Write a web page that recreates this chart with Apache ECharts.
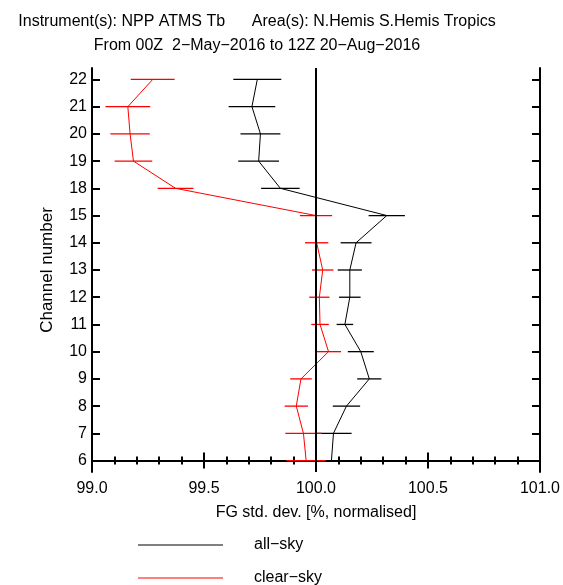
<!DOCTYPE html>
<html>
<head>
<meta charset="utf-8">
<script src="https://cdn.jsdelivr.net/npm/echarts@6/dist/echarts.min.js"></script>
<style>html,body{margin:0;padding:0;background:#fff}#c{width:563px;height:585px}</style>
</head>
<body>
<div id="c"></div>
<script>
// Channels (bottom to top)
const channels = [6, 7, 8, 9, 10, 11, 12, 13, 14, 15, 18, 19, 20, 21, 22];
// all-sky values and error half-widths
const allSky    = [100.069, 100.078, 100.136, 100.238, 100.200, 100.129, 100.151, 100.151, 100.179, 100.316, 99.841, 99.744, 99.752, 99.714, 99.738];
const allSkyErr = [0.081, 0.081, 0.061, 0.054, 0.058, 0.037, 0.048, 0.054, 0.069, 0.081, 0.086, 0.091, 0.089, 0.104, 0.107];
// clear-sky values and error half-widths
const clearSky    = [99.956, 99.944, 99.912, 99.933, 100.056, 100.018, 100.015, 100.030, 100.003, 100.000, 99.373, 99.185, 99.170, 99.160, 99.271];
const clearSkyErr = [0.088, 0.081, 0.052, 0.048, 0.056, 0.039, 0.045, 0.048, 0.052, 0.072, 0.080, 0.084, 0.088, 0.100, 0.098];
const xTicks = [99.0, 99.5, 100.0, 100.5, 101.0];
const legendNames = ['all\u2212sky', 'clear\u2212sky'];

const FONT = 'Liberation Sans, Arial, sans-serif';
const idx = channels.map((c, i) => i);

function lineData(vals) { return vals.map((v, i) => [v, i]); }
function errData(vals, errs) { return vals.map((v, i) => [v - errs[i], v + errs[i], i]); }
function errSeries(name, vals, errs, color) {
  return {
    type: 'custom', name: name, silent: true, z: 3,
    data: errData(vals, errs),
    encode: { x: [0, 1], y: 2 },
    renderItem: function (params, api) {
      const a = api.coord([api.value(0), api.value(2)]);
      const b = api.coord([api.value(1), api.value(2)]);
      return { type: 'line', shape: { x1: a[0], y1: a[1], x2: b[0], y2: b[1] },
               style: { stroke: color, lineWidth: 1.3 } };
    }
  };
}
function legendItem(name, top) {
  return {
    orient: 'vertical', left: 138, top: top, padding: 0,
    itemWidth: 85, itemHeight: 10,
    icon: 'path://M0,0H170V2H0Z',
    data: [name],
    textStyle: { fontFamily: FONT, fontSize: 16, color: '#000', padding: [0, 0, 0, 26] }
  };
}

const chart = echarts.init(document.getElementById('c'), null, { renderer: 'canvas' });
const axisLine = { show: true, lineStyle: { color: '#000', width: 2 } };
const xAxisCommon = {
  type: 'value', min: 99.0, max: 101.0, interval: 0.5,
  axisLine: axisLine, splitLine: { show: false },
  axisTick: { show: true, inside: true, length: 8, lineStyle: { color: '#000', width: 2 } },
  minorTick: { show: true, splitNumber: 5, length: 4, lineStyle: { color: '#000', width: 2 } }
};
const yAxisCommon = {
  type: 'value', min: -0.42, max: 14.42,
  axisLine: axisLine, splitLine: { show: false },
  axisTick: { show: true, inside: true, length: 8, customValues: idx, lineStyle: { color: '#000', width: 2 } }
};

chart.setOption({
  animation: false,
  backgroundColor: '#fff',
  title: {
    text: 'Instrument(s): NPP ATMS Tb      Area(s): N.Hemis S.Hemis Tropics\nFrom 00Z  2\u2212May\u22122016 to 12Z 20\u2212Aug\u22122016',
    left: 252, top: 5, textAlign: 'center',
    textStyle: { fontFamily: FONT, fontSize: 16, fontWeight: 'normal', color: '#000', lineHeight: 24 }
  },
  legend: [legendItem(legendNames[0], 537), legendItem(legendNames[1], 570)],
  grid: { left: 92, right: 21, top: 68, bottom: 113 },
  xAxis: [
    Object.assign({}, xAxisCommon, {
      position: 'bottom',
      name: 'FG std. dev. [%, normalised]', nameLocation: 'middle', nameGap: 33,
      nameTextStyle: { fontFamily: FONT, fontSize: 16, color: '#000' },
      axisLabel: { show: true, margin: 9, fontFamily: FONT, fontSize: 16, color: '#000',
                   formatter: v => xTicks.includes(v) ? v.toFixed(1) : '' }
    }),
    Object.assign({}, xAxisCommon, { position: 'top', axisLabel: { show: false } })
  ],
  yAxis: [
    Object.assign({}, yAxisCommon, {
      position: 'left',
      name: 'Channel number', nameLocation: 'middle', nameGap: 36,
      nameTextStyle: { fontFamily: FONT, fontSize: 17, color: '#000' },
      axisLabel: { show: true, margin: 5, customValues: idx, fontFamily: FONT, fontSize: 16, color: '#000',
                   formatter: v => String(channels[Math.round(v)]) }
    }),
    Object.assign({}, yAxisCommon, { position: 'right', axisLabel: { show: false } })
  ],
  series: [
    {
      name: legendNames[0], type: 'line', data: lineData(allSky), showSymbol: false, symbol: 'none',
      color: '#000', lineStyle: { color: '#000', width: 1 }, z: 4,
      markLine: {
        silent: true, symbol: 'none', label: { show: false },
        lineStyle: { color: '#000', width: 2, type: 'solid' },
        data: [{ xAxis: 100.0 }]
      }
    },
    {
      name: legendNames[1], type: 'line', data: lineData(clearSky), showSymbol: false, symbol: 'none',
      color: '#ff0000', lineStyle: { color: '#ff0000', width: 1 }, z: 4
    },
    errSeries('allErr', allSky, allSkyErr, '#000'),
    errSeries('clearErr', clearSky, clearSkyErr, '#ff0000')
  ]
});
</script>
</body>
</html>
